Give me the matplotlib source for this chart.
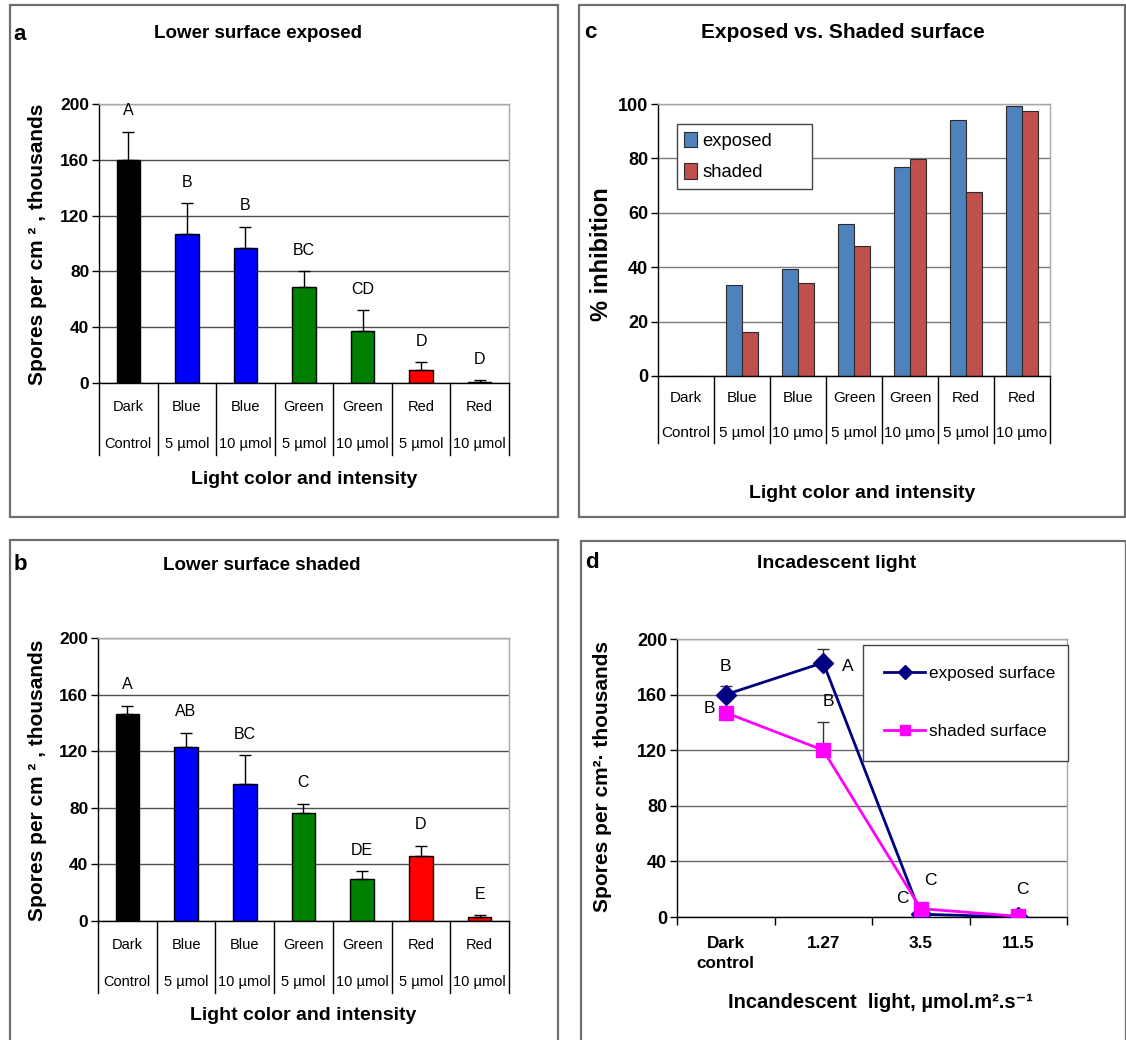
import matplotlib
matplotlib.use('Agg')
import matplotlib.pyplot as plt
import matplotlib.transforms as mtransforms
from matplotlib.patches import Rectangle
import numpy as np

plt.rcParams['font.family'] = ['Liberation Sans', 'DejaVu Sans']

# data
cat_top = ['Dark', 'Blue', 'Blue', 'Green', 'Green', 'Red', 'Red']
cat_bottom = ['Control', '5 µmol', '10 µmol', '5 µmol', '10 µmol', '5 µmol', '10 µmol']
cat_bottom_c = ['Control', '5 µmol', '10 µmo', '5 µmol', '10 µmo', '5 µmol', '10 µmo']

a_means = [160, 107, 97, 69, 37, 9, 1]
a_err = [20, 22, 15, 11, 15, 6, 1]
a_letters = ['A', 'B', 'B', 'BC', 'CD', 'D', 'D']

b_means = [146, 123, 97, 76, 30, 46, 3]
b_err = [6, 10, 20, 7, 5, 7, 1]
b_letters = ['A', 'AB', 'BC', 'C', 'DE', 'D', 'E']

c_exposed = [0, 33.6, 39.5, 56, 76.7, 94.1, 99.3]
c_shaded = [0, 16.2, 34.2, 47.9, 79.6, 67.6, 97.4]

d_labels = ['Dark\ncontrol', '1.27', '3.5', '11.5']
d_exposed = [160, 183, 2, 0]
d_exposed_err = [6, 10, 0, 0]
d_exposed_letters = ['B', 'A', 'C', 'C']
d_shaded = [147, 120, 6, 0.5]
d_shaded_err = [0, 20, 0, 0]
d_shaded_letters = ['B', 'B', 'C', '']

bar_colors = ['black', '#0000FF', '#0000FF', '#008000', '#008000', '#FF0000', '#FF0000']

W, H = 1126, 1040
fig = plt.figure(figsize=(W / 100, H / 100), dpi=100)


def fx(px):
    return px / W


def fy(py):
    return 1 - py / H


def make_axes(x0, x1, y0, y1):
    return fig.add_axes([fx(x0), fy(y1), (x1 - x0) / W, (y1 - y0) / H])


def style_axes(ax, yticks, grid_color, tsize):
    ax.set_ylim(yticks[0], yticks[-1])
    ax.set_yticks(yticks)
    ax.set_yticklabels([str(t) for t in yticks], fontweight='bold', fontsize=tsize)
    ax.tick_params(axis='y', length=5, width=1, pad=2)
    ax.yaxis.grid(True, color=grid_color, linewidth=1)
    ax.set_axisbelow(True)
    for s in ['left', 'bottom']:
        ax.spines[s].set_color('black')
        ax.spines[s].set_linewidth(1)
    for s in ['top', 'right']:
        ax.spines[s].set_color('#A8A8A8')
        ax.spines[s].set_linewidth(1)


def category_table(ax, tops, bottoms, y_row1, y_row2, y_sep, size):
    tr = mtransforms.blended_transform_factory(ax.transData, fig.transFigure)
    n = len(tops)
    for i in range(n):
        ax.text(i, fy(y_row1), tops[i], transform=tr, ha='center', va='center', fontsize=size)
        ax.text(i, fy(y_row2), bottoms[i], transform=tr, ha='center', va='center', fontsize=size)
    ybot = ax.get_position().y0
    for i in range(n + 1):
        ax.plot([i - 0.5, i - 0.5], [ybot, fy(y_sep)], transform=tr, color='black',
                linewidth=1, clip_on=False)
    ax.set_xticks([])


def bar_panel(ax, means, err, letters):
    x = np.arange(len(means))
    ax.bar(x, means, width=0.4, color=bar_colors, edgecolor='black', linewidth=1, zorder=2)
    ax.errorbar(x, means, yerr=[np.zeros(len(err)), err], fmt='none', ecolor='black',
                elinewidth=1, capsize=4.3, capthick=1, zorder=3)
    for i, l in enumerate(letters):
        ax.text(i, means[i] + err[i] + 15, l, ha='center', va='center', fontsize=11.5)
    ax.set_xlim(-0.5, len(means) - 0.5)


# panel borders
for (x0, y0, x1, y1) in [(10, 5, 558, 517), (579, 5, 1125, 517), (10, 540, 558, 1045), (581, 541, 1126, 1045)]:
    fig.add_artist(Rectangle((fx(x0), fy(y1)), (x1 - x0) / W, (y1 - y0) / H, fill=False,
                             edgecolor='#6E6E6E', linewidth=1.6, transform=fig.transFigure))

ylab_ab = 'Spores per cm ² , thousands'

# panel a
ax_a = make_axes(99, 509, 104, 383)
bar_panel(ax_a, a_means, a_err, a_letters)
style_axes(ax_a, [0, 40, 80, 120, 160, 200], '#505050', 12.5)
category_table(ax_a, cat_top, cat_bottom, 407, 444, 455, 10.5)
fig.text(fx(20), fy(34), 'a', fontsize=16, fontweight='bold', ha='center', va='center')
fig.text(fx(258), fy(34), 'Lower surface exposed', fontsize=13.5, fontweight='bold', ha='center', va='center')
fig.text(fx(304), fy(480), 'Light color and intensity', fontsize=14, fontweight='bold', ha='center', va='center')
fig.text(fx(38), fy(244), ylab_ab, fontsize=15, fontweight='bold', ha='center', va='center', rotation=90)

# panel b
ax_b = make_axes(98, 509, 638, 921)
bar_panel(ax_b, b_means, b_err, b_letters)
style_axes(ax_b, [0, 40, 80, 120, 160, 200], '#505050', 12.5)
category_table(ax_b, cat_top, cat_bottom, 945, 982, 993, 10.5)
fig.text(fx(20), fy(565), 'b', fontsize=16, fontweight='bold', ha='center', va='center')
fig.text(fx(262), fy(565), 'Lower surface shaded', fontsize=13.5, fontweight='bold', ha='center', va='center')
fig.text(fx(303), fy(1015), 'Light color and intensity', fontsize=14, fontweight='bold', ha='center', va='center')
fig.text(fx(38), fy(780), ylab_ab, fontsize=15, fontweight='bold', ha='center', va='center', rotation=90)

# panel c
ax_c = make_axes(658, 1050, 104, 376)
xc = np.arange(len(c_exposed))
ax_c.bar(xc - 0.14, c_exposed, width=0.28, color='#4F81BD', edgecolor='#2B2B2B', linewidth=0.8,
         label='exposed', zorder=2)
ax_c.bar(xc + 0.14, c_shaded, width=0.28, color='#C0504D', edgecolor='#2B2B2B', linewidth=0.8,
         label='shaded', zorder=2)
ax_c.set_xlim(-0.5, len(c_exposed) - 0.5)
style_axes(ax_c, [0, 20, 40, 60, 80, 100], '#7A7A7A', 13)
category_table(ax_c, cat_top, cat_bottom_c, 398, 433, 443, 11)
leg_c = ax_c.legend(loc='upper left', bbox_to_anchor=(0.048, 0.676, 0.345, 0.25), mode='expand',
                    fontsize=13.3, handlelength=0.7, handleheight=0.9, handletextpad=0.3,
                    labelspacing=0.75, borderpad=0.4, fancybox=False, framealpha=1,
                    borderaxespad=0)
leg_c.get_frame().set_edgecolor('#444444')
leg_c.get_frame().set_linewidth(1)
fig.text(fx(590), fy(32), 'c', fontsize=16, fontweight='bold', ha='center', va='center')
fig.text(fx(843), fy(32), 'Exposed vs. Shaded surface', fontsize=15, fontweight='bold', ha='center', va='center')
fig.text(fx(862), fy(493), 'Light color and intensity', fontsize=14, fontweight='bold', ha='center', va='center')
fig.text(fx(602), fy(254), '% inhibition', fontsize=17, fontweight='bold', ha='center', va='center', rotation=90)

# panel d
ax_d = make_axes(677, 1067, 639, 917)
xd = np.arange(len(d_exposed))
ax_d.errorbar(xd, d_exposed, yerr=[np.zeros(len(xd)), d_exposed_err], fmt='none', ecolor='#333333',
              elinewidth=1, capsize=4, capthick=1, zorder=2)
ax_d.errorbar(xd, d_shaded, yerr=[np.zeros(len(xd)), d_shaded_err], fmt='none', ecolor='#333333',
              elinewidth=1, capsize=4, capthick=1, zorder=2)
ax_d.plot(xd, d_exposed, color='#000080', marker='D', markersize=10, linewidth=2,
          label='exposed surface', zorder=3)
ax_d.plot(xd, d_shaded, color='#FF00FF', marker='s', markersize=10, linewidth=2,
          label='shaded surface', zorder=4)
ax_d.set_xlim(-0.5, len(xd) - 0.5)
style_axes(ax_d, [0, 40, 80, 120, 160, 200], '#6A6A6A', 13)
ax_d.set_xticks(xd)
ax_d.set_xticklabels(d_labels, fontweight='bold', fontsize=12.3, linespacing=1.35)
ax_d.set_xticks(np.arange(len(xd) + 1) - 0.5, minor=True)
ax_d.tick_params(axis='x', which='major', length=0, pad=14)
ax_d.tick_params(axis='x', which='minor', length=6, width=1)

exp_offsets = [(0, 20), (18, -3), (7, 24), (3, 20)]
sh_offsets = [(-12, 3), (4, 35), (-13, 7), (0, 0)]
for i, l in enumerate(d_exposed_letters):
    ax_d.annotate(l, (xd[i], d_exposed[i]), xytext=exp_offsets[i], textcoords='offset points',
                  ha='center', va='center', fontsize=12.5)
for i, l in enumerate(d_shaded_letters):
    ax_d.annotate(l, (xd[i], d_shaded[i]), xytext=sh_offsets[i], textcoords='offset points',
                  ha='center', va='center', fontsize=12.5)

leg_d = ax_d.legend(loc='upper left', bbox_to_anchor=(0.477, 0.565, 0.526, 0.413), mode='expand',
                    fontsize=12.3, handlelength=2.4, handletextpad=0.2, labelspacing=2.5,
                    borderpad=1.25, fancybox=False, framealpha=1, borderaxespad=0, markerscale=0.7)
leg_d.get_frame().set_edgecolor('#444444')
leg_d.get_frame().set_linewidth(1)
fig.text(fx(592), fy(563), 'd', fontsize=16, fontweight='bold', ha='center', va='center')
fig.text(fx(837), fy(564), 'Incadescent light', fontsize=14, fontweight='bold', ha='center', va='center')
fig.text(fx(880), fy(1003), 'Incandescent  light, µmol.m².s⁻¹', fontsize=14.5, fontweight='bold',
         ha='center', va='center')
fig.text(fx(603), fy(777), 'Spores per cm²· thousands', fontsize=15, fontweight='bold',
         ha='center', va='center', rotation=90)

fig.savefig('out.png', dpi=100)
